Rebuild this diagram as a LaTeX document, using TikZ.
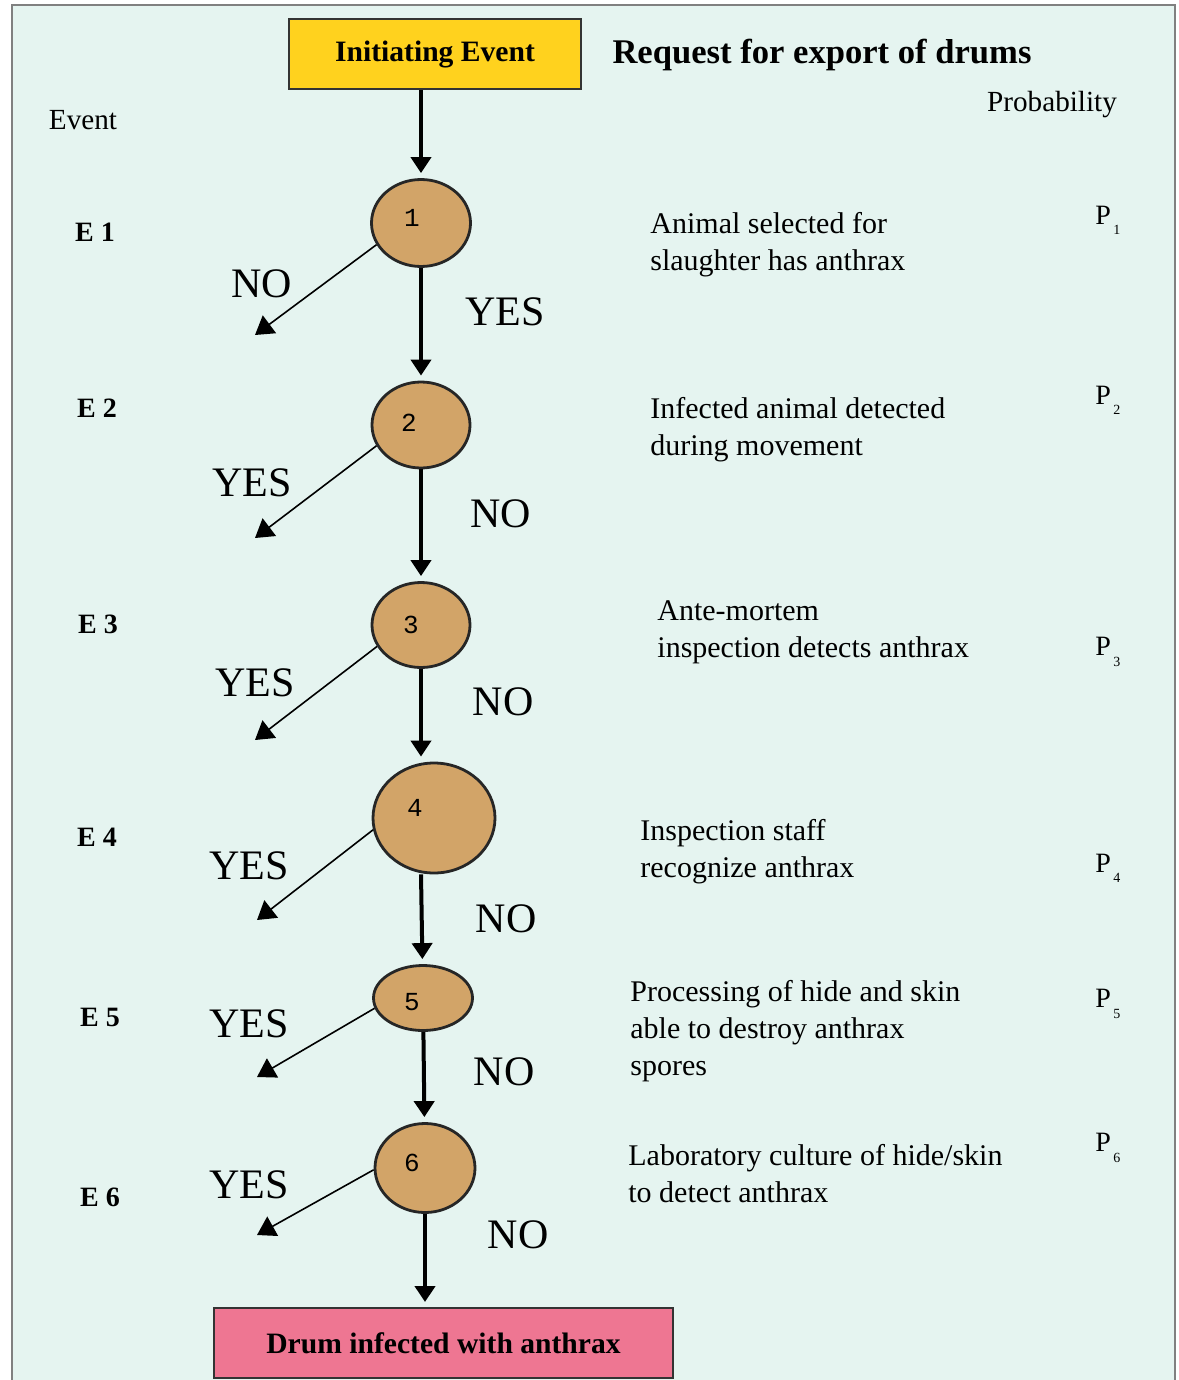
\documentclass[tikz,border=0pt]{standalone}
\usepackage{fontspec}
\setmainfont{Liberation Serif}
\newfontfamily\digitfont{Liberation Mono}
\usepackage{tikz}
\usetikzlibrary{shapes.geometric,arrows.meta}
\definecolor{paper}{RGB}{229,244,240}
\definecolor{tan}{RGB}{210,164,104}
\definecolor{gold}{RGB}{255,210,30}
\definecolor{rose}{RGB}{238,118,146}
\newcommand\probsub[1]{P\raisebox{-0.8ex}{\fontsize{7}{8}\selectfont\,#1}}

\begin{document}
\begin{tikzpicture}[x=0.5pt,y=-0.5pt,
	event/.style={ellipse,draw=black!85,line width=1.4pt,fill=tan,inner sep=0pt},
	numlabel/.style={font=\digitfont\fontsize{13}{13}\selectfont},
	endbox/.style={rectangle,draw=black!80,line width=1pt,minimum width=146pt,minimum height=35pt,font=\bfseries\fontsize{14.8}{18}\selectfont},
	trunk/.style={line width=2pt,-{Triangle[width=10pt,length=8pt]},shorten >=2.5pt},
	branch/.style={line width=0.8pt,-{Triangle[width=11pt,length=9pt]}},
	answer/.style={font=\fontsize{21}{24}\selectfont},
	elabel/.style={font=\bfseries\fontsize{14}{16}\selectfont},
	desc/.style={anchor=west,inner sep=0pt,align=left,font=\fontsize{15}{18.5}\selectfont},
	prob/.style={anchor=west,inner sep=0pt,font=\fontsize{14}{16}\selectfont}]
	\useasboundingbox (0,0) rectangle (1178,1380);
	\fill[white] (0,0) rectangle (1178,1380);
	\fill[paper] (12,5) rectangle (1175,1380);
	\draw[gray,line width=1pt] (12,1380) -- (12,5) -- (1175,5) -- (1175,1380);
	\node[endbox,fill=gold] (init) at (435,54) {Initiating Event};
	\node[endbox,fill=rose,minimum width=229.5pt] (drum) at (443.5,1343) {Drum infected with anthrax};
	\node[font=\bfseries\fontsize{17.3}{20}\selectfont] (title) at (822,55) {Request for export of drums};
	\node[font=\fontsize{14.6}{17}\selectfont] (eventhead) at (83,120) {Event};
	\node[font=\fontsize{14.6}{17}\selectfont] (probhead) at (1052,105) {Probability};
	\node[event,minimum width=49.5pt,minimum height=43.5pt] (c1) at (421,223) {};
	\node[event,minimum width=49pt,minimum height=43pt] (c2) at (421,425) {};
	\node[event,minimum width=49pt,minimum height=42.5pt] (c3) at (421,625) {};
	\node[event,minimum width=61pt,minimum height=55pt] (c4) at (434,818) {};
	\node[event,minimum width=49.5pt,minimum height=32.5pt] (c5) at (423,998) {};
	\node[event,minimum width=50pt,minimum height=44.5pt] (c6) at (425,1168) {};
	\node[numlabel] (n1) at (412,218) {1};
	\node[numlabel] (n2) at (409,423) {2};
	\node[numlabel] (n3) at (411,625) {3};
	\node[numlabel] (n4) at (415,808) {4};
	\node[numlabel] (n5) at (412,1002) {5};
	\node[numlabel] (n6) at (412,1163) {6};
	\draw[trunk] (c1 |- init.south) -- (c1);
	\draw[trunk] (c1) -- (c2);
	\draw[trunk] (c2) -- (c3);
	\draw[trunk] (c3) -- (c3 |- c4.north);
	\draw[trunk] (c3 |- c4.south) -- (c5);
	\draw[trunk] (c5) -- (c6);
	\draw[trunk] (c6) -- (c6 |- drum.north);
	\coordinate (t1) at (255,335);
	\coordinate (t2) at (255,538);
	\coordinate (t3) at (255,740);
	\coordinate (t4) at (257,920);
	\coordinate (t5) at (257,1077);
	\coordinate (t6) at (257,1235);
	\draw[branch] (c1.206) -- (t1);
	\draw[branch] (c2.205) -- (t2);
	\draw[branch] (c3.206) -- (t3);
	\draw[branch] (c4.191) -- (t4);
	\draw[branch] (c5.192) -- (t5);
	\draw[branch] (c6.182) -- (t6);
	\node[answer] (no1) at (262,284) {NO};
	\node[answer] (yes1) at (505,312) {YES};
	\node[answer] (yes2) at (252,483) {YES};
	\node[answer] (no2) at (501,514) {NO};
	\node[answer] (yes3) at (255,683) {YES};
	\node[answer] (no3) at (503,702) {NO};
	\node[answer] (yes4) at (249,866) {YES};
	\node[answer] (no4) at (506,919) {NO};
	\node[answer] (yes5) at (249,1024) {YES};
	\node[answer] (no5) at (504,1072) {NO};
	\node[answer] (yes6) at (249,1185) {YES};
	\node[answer] (no6) at (518,1235) {NO};
	\node[elabel] (e1) at (95,232) {E 1};
	\node[elabel] (e2) at (97,408) {E 2};
	\node[elabel] (e3) at (98,624) {E 3};
	\node[elabel] (e4) at (97,837) {E 4};
	\node[elabel] (e5) at (100,1017) {E 5};
	\node[elabel] (e6) at (100,1197) {E 6};
	\node[desc] (d1) at (650,245) {Animal selected for\\slaughter has anthrax};
	\node[desc] (d2) at (650,430) {Infected animal detected\\during movement};
	\node[desc] (d3) at (657,632) {Ante-mortem\\inspection detects anthrax};
	\node[desc] (d4) at (640,852) {Inspection staff\\recognize anthrax};
	\node[desc] (d5) at (630,1031) {Processing of hide and skin\\able to destroy anthrax\\spores};
	\node[desc] (d6) at (628,1174) {Laboratory culture of hide/skin\\to detect anthrax};
	\node[prob] (p1) at (1095,220) {\probsub{1}};
	\node[prob] (p2) at (1095,400) {\probsub{2}};
	\node[prob] (p3) at (1095,652) {\probsub{3}};
	\node[prob] (p4) at (1095,868) {\probsub{4}};
	\node[prob] (p5) at (1095,1004) {\probsub{5}};
	\node[prob] (p6) at (1095,1148) {\probsub{6}};
\end{tikzpicture}
\end{document}
